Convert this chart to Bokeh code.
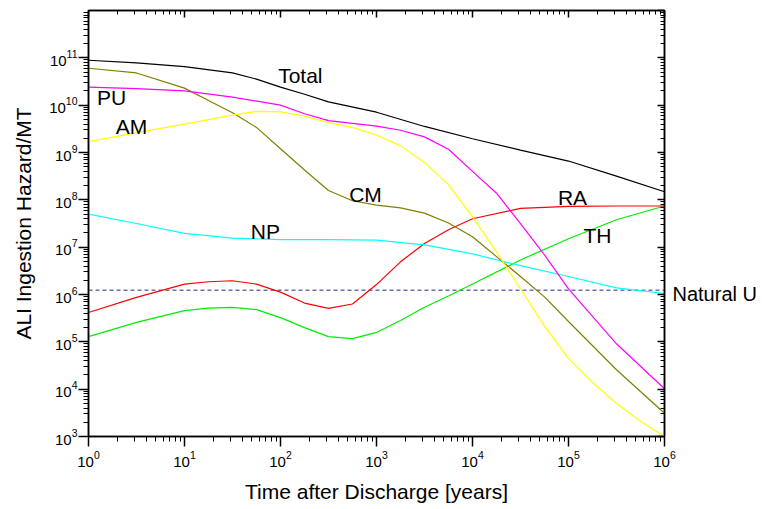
from bokeh.plotting import figure
from bokeh.models import LogAxis, FixedTicker, Label, CustomJSTickFormatter
from bokeh.embed import file_html
from bokeh.resources import INLINE

# ---------------- data ----------------
t_half = [1, 3.16, 10, 31.6, 100, 316, 1000, 3160, 1e4, 3.16e4, 1e5, 3.16e5, 1e6]

total_t = [1, 3.16, 10, 31.6, 56.2, 100, 178, 316, 1000, 3160, 1e4, 3.16e4, 1e5, 3.16e5, 1e6]
total_v = [8.9e10, 7.8e10, 6.5e10, 4.8e10, 3.55e10, 2.4e10, 1.7e10, 1.17e10, 7.1e9, 3.55e9,
           1.95e9, 1.12e9, 6.6e8, 3.16e8, 1.48e8]

pu_t = [1, 3.16, 10, 31.6, 100, 178, 316, 1000, 1780, 3160, 5620, 1e4, 1.78e4, 3.16e4,
        5.62e4, 1e5, 3.16e5, 1e6]
pu_v = [2.4e10, 2.24e10, 2.0e10, 1.48e10, 1.0e10, 6.6e9, 4.7e9, 3.6e9, 2.95e9, 2.14e9,
        1.17e9, 4.0e8, 1.38e8, 3.16e7, 6.9e6, 1.32e6, 9.1e4, 1.02e4]

am_t = [1, 3.16, 10, 31.6, 56.2, 100, 178, 316, 562, 1000, 1780, 3160, 5620, 1e4, 1.78e4,
        3.16e4, 5.62e4, 1e5, 1.78e5, 3.16e5, 5.62e5, 1e6]
am_v = [1.7e9, 2.63e9, 3.98e9, 6.17e9, 7.41e9, 7.24e9, 5.89e9, 4.27e9, 3.39e9, 2.34e9,
        1.38e9, 6.17e8, 2.09e8, 4.37e7, 7.94e6, 1.32e6, 2.14e5, 4.47e4, 1.38e4, 5.0e3,
        2.09e3, 1.0e3]

cm_t = [1, 3.16, 10, 17.8, 31.6, 56.2, 100, 178, 316, 562, 1000, 1780, 3160, 5620, 1e4,
        1.78e4, 3.16e4, 5.62e4, 1e5, 3.16e5, 1e6]
cm_v = [6.03e10, 4.79e10, 2.29e10, 1.26e10, 6.92e9, 3.39e9, 1.2e9, 4.27e8, 1.58e8, 9.55e7,
        7.76e7, 6.76e7, 5.25e7, 3.24e7, 1.66e7, 6.31e6, 2.4e6, 8.9e5, 2.69e5, 2.57e4, 3.09e3]

np_v = [5.0e7, 3.16e7, 1.95e7, 1.55e7, 1.45e7, 1.45e7, 1.41e7, 1.12e7, 7.2e6, 4.07e6,
        2.4e6, 1.38e6, 1.05e6]

ra_t = [1, 3.16, 10, 17.8, 31.6, 56.2, 100, 178, 316, 562, 1000, 1780, 3160, 5620, 1e4,
        3.16e4, 1e5, 3.16e5, 1e6]
ra_v = [4.17e5, 8.7e5, 1.66e6, 1.86e6, 1.95e6, 1.66e6, 1.12e6, 6.6e5, 5.1e5, 6.3e5,
        1.62e6, 4.9e6, 1.2e7, 2.34e7, 3.98e7, 6.6e7, 7.24e7, 7.4e7, 7.4e7]

th_t = ra_t
th_v = [1.29e5, 2.57e5, 4.57e5, 5.13e5, 5.37e5, 4.79e5, 3.24e5, 2.0e5, 1.29e5, 1.17e5,
        1.58e5, 2.82e5, 5.37e5, 9.33e5, 1.66e6, 5.37e6, 1.51e7, 3.8e7, 7.4e7]

natural_u_t = [1, 1e6]
natural_u_v = [1.23e6, 1.23e6]
natural_u_label = "Natural U"
natural_u_label_at = 1.04e6

x_decades = [0, 1, 2, 3, 4, 5, 6]
y_decades = [3, 4, 5, 6, 7, 8, 9, 10, 11]

# label texts and anchor points (data coords)
labels = [
    ("Total", 161, 4.2e10),
    ("PU", 1.74, 1.48e10),
    ("AM", 2.8, 3.5e9),
    ("CM", 768, 1.27e8),
    ("NP", 69.6, 2.1e7),
    ("RA", 1.1e5, 1.1e8),
    ("TH", 2.0e5, 1.74e7),
]

FONT = "Liberation Sans"

p = figure(width=760, height=505, x_axis_type="log", y_axis_type="log",
           x_range=(1, 1e6), y_range=(1e3, 1e12),
           output_backend="svg", toolbar_location=None,
           min_border_left=88, min_border_right=96, min_border_top=10,
           min_border_bottom=69)
p.background_fill_color = "white"
p.border_fill_color = "white"
p.outline_line_color = "black"
p.outline_line_width = 1.5
p.xgrid.grid_line_color = None
p.ygrid.grid_line_color = None

x_major = [10.0 ** k for k in x_decades]
x_minor = [m * 10.0 ** k for k in x_decades[:-1] for m in range(2, 10)]
y_major = [10.0 ** k for k in y_decades] + [1e12]
y_minor = [m * 10.0 ** k for k in y_decades for m in range(2, 10)]


def style(ax, outside=True):
    ax.axis_line_color = "black"
    ax.axis_line_width = 1.5
    ax.major_tick_line_color = "black"
    ax.minor_tick_line_color = "black"
    ax.major_tick_line_width = 1.5
    ax.minor_tick_line_width = 1
    if outside:
        ax.major_tick_out = 10
        ax.major_tick_in = 0
        ax.minor_tick_out = 5
        ax.minor_tick_in = 0
    else:
        ax.major_tick_out = 0
        ax.major_tick_in = 7
        ax.minor_tick_out = 0
        ax.minor_tick_in = 4
    ax.major_label_text_font = FONT
    ax.major_label_text_font_size = "15px"
    ax.major_label_text_color = "black"
    ax.axis_label_text_font = FONT
    ax.axis_label_text_font_size = "21px"
    ax.axis_label_text_font_style = "normal"
    ax.axis_label_text_color = "black"


p.xaxis.ticker = FixedTicker(ticks=x_major, minor_ticks=x_minor)
p.yaxis.ticker = FixedTicker(ticks=y_major[:-1], minor_ticks=y_minor)
p.xaxis.axis_label = "Time after Discharge [years]"
p.yaxis.axis_label = "ALI Ingestion Hazard/MT"
style(p.xaxis[0])
style(p.yaxis[0])
p.xaxis.major_label_standoff = 4
p.yaxis.major_label_standoff = 1
p.xaxis.axis_label_standoff = 10
p.yaxis.axis_label_standoff = 11

blank = CustomJSTickFormatter(code="return '';")
top = LogAxis(ticker=FixedTicker(ticks=x_major, minor_ticks=x_minor), formatter=blank)
right = LogAxis(ticker=FixedTicker(ticks=y_major, minor_ticks=y_minor), formatter=blank)
for ax in (top, right):
    style(ax, outside=False)
    ax.major_label_standoff = 0
p.add_layout(top, "above")
p.add_layout(right, "right")

# text label for the Natural U line, placed outside the frame via a tickless axis
nat_axis = LogAxis(ticker=FixedTicker(ticks=[natural_u_label_at], minor_ticks=[]),
                   formatter=CustomJSTickFormatter(code="return '%s';" % natural_u_label))
nat_axis.axis_line_color = None
nat_axis.major_tick_line_color = None
nat_axis.minor_tick_line_color = None
nat_axis.major_tick_in = 0
nat_axis.major_tick_out = 0
nat_axis.minor_tick_in = 0
nat_axis.minor_tick_out = 0
nat_axis.major_label_standoff = 8
nat_axis.major_label_text_font = FONT
nat_axis.major_label_text_font_size = "20px"
nat_axis.major_label_text_color = "black"
p.add_layout(nat_axis, "right")

lw = 1.2
p.line(natural_u_t, natural_u_v, line_color="#6f6fb8", line_width=1.5, line_dash="4 3")
p.line(th_t, th_v, line_color="#00ee00", line_width=lw)
p.line(ra_t, ra_v, line_color="#ff0000", line_width=lw)
p.line(t_half, np_v, line_color="#00ffff", line_width=lw)
p.line(cm_t, cm_v, line_color="#808000", line_width=lw)
p.line(am_t, am_v, line_color="#ffff00", line_width=lw)
p.line(pu_t, pu_v, line_color="#ff00ff", line_width=lw)
p.line(total_t, total_v, line_color="#000000", line_width=lw)

for txt, lx, ly in labels:
    p.add_layout(Label(x=lx, y=ly, text=txt, text_align="center", text_baseline="middle",
                       text_font=FONT, text_font_size="21px", text_color="black"))

open("out.html", "w").write(file_html(p, INLINE))
